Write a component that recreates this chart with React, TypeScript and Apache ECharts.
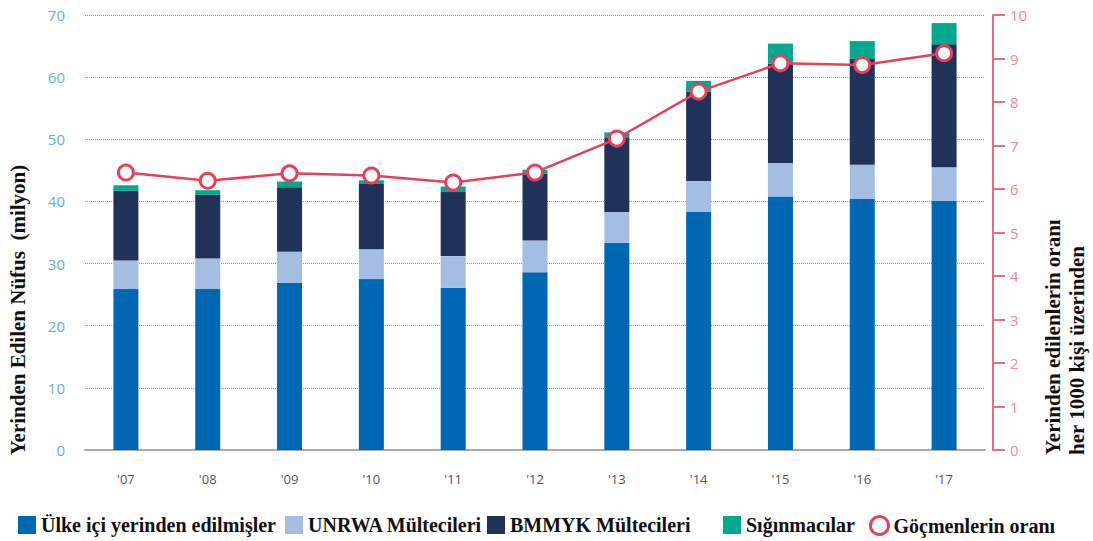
import React, { useEffect, useRef } from "react";
import * as echarts from "echarts";

const years = ["'07", "'08", "'09", "'10", "'11", "'12", "'13", "'14", "'15", "'16", "'17"];
const idp = [25.9, 25.9, 26.9, 27.5, 26.1, 28.6, 33.3, 38.3, 40.8, 40.4, 40.1];
const unrwa = [4.6, 4.9, 5.0, 4.8, 5.1, 5.1, 5.0, 5.0, 5.4, 5.5, 5.4];
const unhcr = [11.2, 10.3, 10.4, 10.5, 10.3, 10.8, 11.9, 14.4, 16.0, 17.0, 19.8];
const asylum = [0.9, 0.7, 0.9, 0.6, 0.9, 0.6, 0.9, 1.7, 3.2, 2.9, 3.4];
const rate = [6.38, 6.19, 6.36, 6.31, 6.15, 6.38, 7.16, 8.24, 8.89, 8.85, 9.12];

const names = [
  "Ülke içi yerinden edilmişler",
  "UNRWA Mültecileri",
  "BMMYK Mültecileri",
  "Sığınmacılar",
  "Göçmenlerin oranı",
];
const legendLefts = [18, 285, 487, 723, 869];
const colors = ["#0068b3", "#a4bde3", "#21325a", "#00a88e"];
const red = "#e8405b";
const serif = "'Liberation Serif', 'Times New Roman', serif";
const sans = "'Open Sans', sans-serif";

export default function App() {
  const ref = useRef<HTMLDivElement>(null);
  useEffect(() => {
    if (!ref.current) return;
    const chart = echarts.init(ref.current, undefined, { renderer: "svg" });
    const barData = [idp, unrwa, unhcr, asylum];
    chart.setOption({
      animation: false,
      grid: { left: 85, right: 108, top: 15, bottom: 91 },
      legend: names.map((n, i) => ({
        left: legendLefts[i],
        top: 515,
        padding: 0,
        itemWidth: 18,
        itemHeight: 18,
        textStyle: { fontFamily: serif, fontWeight: "bold", fontSize: 20, color: "#111" },
        data: [
          i < 4
            ? { name: n, icon: "rect" }
            : {
                name: n,
                icon: "circle",
                itemStyle: { color: "#fff", borderColor: red, borderWidth: 3 },
              },
        ],
      })),
      xAxis: {
        type: "category",
        data: years,
        axisLine: { lineStyle: { color: "#aaaaaa", width: 2 } },
        axisTick: { show: false },
        axisLabel: { color: "#555", fontFamily: sans, fontSize: 13, margin: 22 },
      },
      yAxis: [
        {
          type: "value",
          min: 0,
          max: 70,
          interval: 10,
          axisLine: { show: false },
          axisTick: { show: false },
          axisLabel: { color: "#6aaee0", fontFamily: sans, fontSize: 15, margin: 20 },
          splitLine: { lineStyle: { color: "#999", type: "dotted", width: 1 } },
        },
        {
          type: "value",
          position: "right",
          offset: 8,
          min: 0,
          max: 10,
          interval: 1,
          axisLine: { show: true, lineStyle: { color: "#ec6b83", width: 2 } },
          axisTick: { show: true, length: 12, inside: false, lineStyle: { color: "#ec6b83", width: 2 } },
          axisLabel: { color: "#f3879b", fontFamily: sans, fontSize: 15, margin: 17 },
          splitLine: { show: false },
        },
      ],
      series: [
        ...barData.map((d, i) => ({
          name: names[i],
          type: "bar",
          stack: "total",
          barWidth: 25,
          data: d,
          itemStyle: { color: colors[i] },
        })),
        {
          name: names[4],
          type: "line",
          yAxisIndex: 1,
          data: rate,
          symbol: "circle",
          symbolSize: 15,
          lineStyle: { color: red, width: 2.5 },
          itemStyle: { color: "#fff", borderColor: red, borderWidth: 3 },
          z: 5,
        },
      ],
      graphic: [
        {
          type: "text",
          x: 18,
          y: 310,
          rotation: Math.PI / 2,
          style: {
            text: "Yerinden Edilen Nüfus  (milyon)",
            fontFamily: serif,
            fontWeight: "bold",
            fontSize: 21,
            fill: "#111",
            align: "center",
            verticalAlign: "middle",
          },
        },
        {
          type: "text",
          x: 1053,
          y: 455,
          rotation: Math.PI / 2,
          style: {
            text: "Yerinden edilenlerin oranı",
            fontFamily: serif,
            fontWeight: "bold",
            fontSize: 21,
            fill: "#111",
            align: "left",
            verticalAlign: "middle",
          },
        },
        {
          type: "text",
          x: 1077,
          y: 455,
          rotation: Math.PI / 2,
          style: {
            text: "her 1000 kişi üzerinden",
            fontFamily: serif,
            fontWeight: "bold",
            fontSize: 21,
            fill: "#111",
            align: "left",
            verticalAlign: "middle",
          },
        },
      ],
    });
    return () => chart.dispose();
  }, []);
  return <div ref={ref} style={{ width: 1093, height: 541, position: "absolute", left: 0, top: 0 }} />;
}
